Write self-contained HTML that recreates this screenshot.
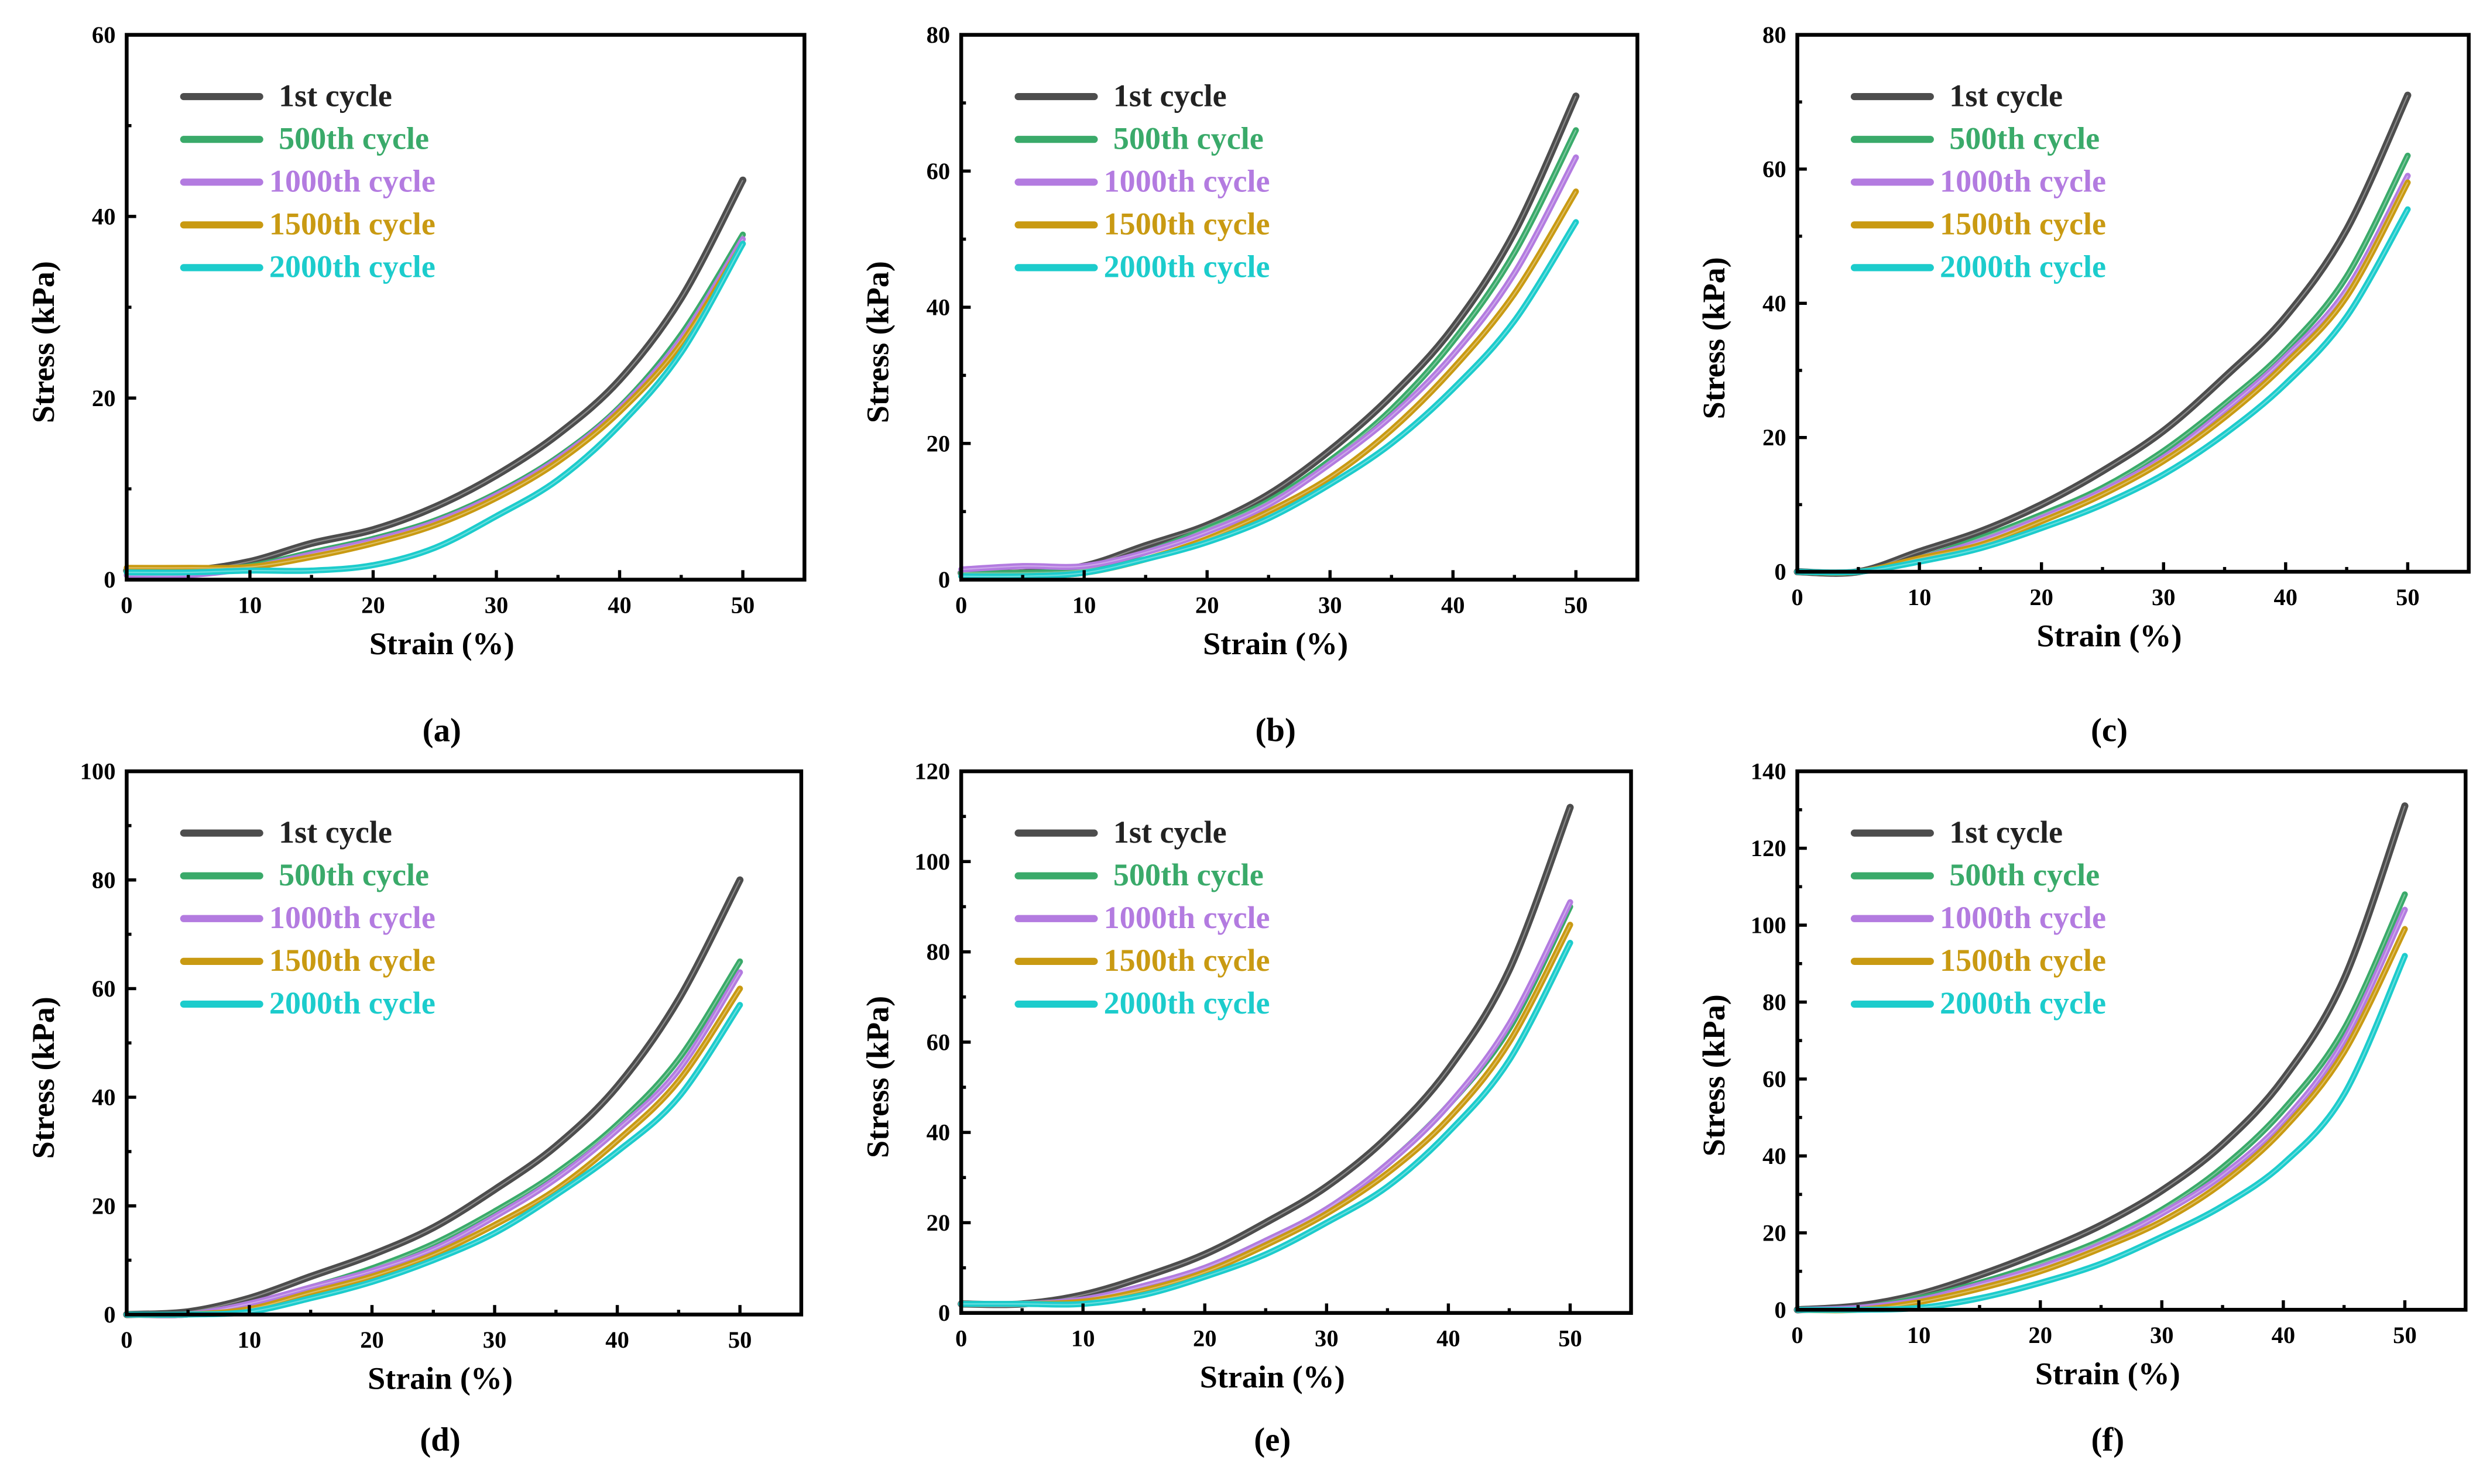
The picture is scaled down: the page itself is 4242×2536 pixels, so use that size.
<!DOCTYPE html>
<html><head><meta charset="utf-8">
<style>
html,body{margin:0;padding:0;background:#fff;}
svg{display:block;}
text{font-family:"Liberation Serif",serif;font-weight:bold;}
</style></head>
<body>
<svg id="fig" width="4242" height="2536" viewBox="0 0 1568 937" preserveAspectRatio="none" xmlns="http://www.w3.org/2000/svg"></svg>
<script>
const strainPts = [0,5,10,15,20,25,30,35,40,45,50];
const cycleNames = ["1st cycle","500th cycle","1000th cycle","1500th cycle","2000th cycle"];
const cycleColors = ["#4d4d4d","#3aaa6a","#b37be0","#c99a12","#1ccccc"];
// stress (kPa) per panel, per cycle
const aStress = [
 [1,1,2,4,5.5,8,11.5,16,22,31,44],
 [1,1,1.5,3,4.5,6.5,9.5,13.5,19,27,38],
 [0.5,0.5,1.3,2.8,4.3,6.3,9.3,13.3,18.8,26.5,37.5],
 [1.3,1.3,1.4,2.5,4,6,9,13,18.5,26,37],
 [0.8,0.8,1,1,1.6,3.5,7,11,17,25,37]
];
const bStress = [
 [1,1,2,5,8,12.5,19,27,37,51,71],
 [1,1,1.5,4,7.5,11.5,17.5,25,35,48,66],
 [1.5,2,2,4,7,11,17,24,33,45,62],
 [0.5,0.5,1,3,6,10,15,22,31,42,57],
 [0.5,0.5,1,3,5.5,9,14,20,28,38,52.5]
];
const cStress = [
 [0,0,3,6,10,15,21,29,38,51,71],
 [0,0,2,5,8.5,12.5,18,25,33,44,62],
 [0,0,2,4.5,8,12,17,24,32,42,59],
 [0,0,2,4,7.5,11.5,16.5,23,31,41,58],
 [0,0,1.5,3.5,6.5,10,14.5,20.5,28,38,54]
];
const dStress = [
 [0,0.5,3,7,11,16,23,31,42,58,80],
 [0,0,2,5,8.5,13,19,26,35,47,65],
 [0,0,2,5,8,12,18,25,34,45,63],
 [0,0,1,4,7,11,16.5,23,32,43,60],
 [0,0,0.5,3,6,10,15,22,30,40,57]
];
const eStress = [
 [2,2,4,8,13,20,28,39,54,76,112],
 [2,2,3,6,10,16,23,33,46,63,90],
 [2,2,3,6,10,16,23,33,46,64,91],
 [2,2,2.5,5,9,15,22,31,43,60,86],
 [2,2,2,4,8,13,20,28,40,56,82]
];
const fStress = [
 [0,1,4,9,15,22,31,43,60,86,131],
 [0,0.5,3,7,12,18,26,37,52,73,108],
 [0,0.5,2.5,6.5,11,17,25,35,49,70,104],
 [0,0,2,5.5,10,16,23,33,47,67,99],
 [0,0,0.5,3,7,12,19,27,38,56,92]
];
const xTicks = [0,10,20,30,40,50];
const aYTicks = [0,20,40,60];
const bYTicks = [0,20,40,60,80];
const dYTicks = [0,20,40,60,80,100];
const eYTicks = [0,20,40,60,80,100,120];
const fYTicks = [0,20,40,60,80,100,120,140];

const NS="http://www.w3.org/2000/svg";
const svg=document.getElementById('fig');
function mk(tag,attrs,parent){const e=document.createElementNS(NS,tag);for(const k in attrs)e.setAttribute(k,attrs[k]);(parent||svg).appendChild(e);return e;}

const panels=[
 {id:'a',x0:80,x1:508,y0:22,y1:366,ymax:60,ticks:aYTicks,data:aStress,first:"1st   cycle",lab:"(a)",sy:406,ly:461},
 {id:'b',x0:607,x1:1034,y0:22,y1:366,ymax:80,ticks:bYTicks,data:bStress,lab:"(b)",sy:406,ly:461},
 {id:'c',x0:1135,x1:1559,y0:22,y1:361,ymax:80,ticks:bYTicks,data:cStress,lab:"(c)",sy:401,ly:461},
 {id:'d',x0:80,x1:506,y0:487,y1:830,ymax:100,ticks:dYTicks,data:dStress,lab:"(d)",sy:870,ly:909},
 {id:'e',x0:607,x1:1030,y0:487,y1:829,ymax:120,ticks:eYTicks,data:eStress,lab:"(e)",sy:869,ly:909},
 {id:'f',x0:1135,x1:1557,y0:487,y1:827,ymax:140,ticks:fYTicks,data:fStress,lab:"(f)",sy:867,ly:909}
];

function pathFrom(pts){
  let d='M'+pts[0][0]+','+pts[0][1];
  for(let i=0;i<pts.length-1;i++){
    const p0=pts[Math.max(0,i-1)],p1=pts[i],p2=pts[i+1],p3=pts[Math.min(pts.length-1,i+2)];
    const c1x=p1[0]+(p2[0]-p0[0])/6,c1y=p1[1]+(p2[1]-p0[1])/6;
    const c2x=p2[0]-(p3[0]-p1[0])/6,c2y=p2[1]-(p3[1]-p1[1])/6;
    d+=' C'+c1x+','+c1y+' '+c2x+','+c2y+' '+p2[0]+','+p2[1];
  }
  return d;
}

panels.forEach(p=>{
  const g=mk('g',{});
  
  
  const sx=v=>p.x0+(v/55)*(p.x1-p.x0);
  const sy=v=>p.y1-(v/p.ymax)*(p.y1-p.y0);
  p.data.forEach((vals,ci)=>{
    const pts=strainPts.map((s,i)=>[sx(s),sy(vals[i])]);
    const path=mk('path',{d:pathFrom(pts),fill:'none',stroke:cycleColors[ci],'stroke-width':ci===0?4.5:3.8,'stroke-linecap':'round'},g);
    
    
    const inner=mk('path',{d:pathFrom(pts),fill:'none',stroke:'#fff','stroke-opacity':0.35,'stroke-width':0.8},g);
    
    
  });
  const fr=mk('rect',{x:p.x0,y:p.y0,width:p.x1-p.x0,height:p.y1-p.y0,fill:'none',stroke:'#000','stroke-width':2.4},g);
  
  
  xTicks.forEach(t=>{
    mk('line',{x1:sx(t),x2:sx(t),y1:p.y1,y2:p.y1-6,stroke:'#000','stroke-width':2},g);
    mk('line',{x1:sx(t+5),x2:sx(t+5),y1:p.y1,y2:p.y1-3,stroke:'#000','stroke-width':2},g);
    const tx=mk('text',{x:sx(t),y:p.y1+21,'text-anchor':'middle','font-size':15},g);
    tx.textContent=t;
    
    
  });
  p.ticks.forEach((t,i)=>{
    mk('line',{x1:p.x0,x2:p.x0+6,y1:sy(t),y2:sy(t),stroke:'#000','stroke-width':2},g);
    if(i<p.ticks.length-1) mk('line',{x1:p.x0,x2:p.x0+3,y1:sy(t+10),y2:sy(t+10),stroke:'#000','stroke-width':2},g);
    const ty=mk('text',{x:p.x0-7,y:sy(t)+5,'text-anchor':'end','font-size':15},g);
    ty.textContent=t;
    
    
  });
  const xt=mk('text',{x:(p.x0+p.x1)/2-15,y:p.sy+7,'text-anchor':'middle','font-size':20},g);
  xt.setAttribute('xml:space','preserve');
  xt.textContent='Strain  (%)';
  
  
  const ycx=p.x0-46, ycy=(p.y0+p.y1)/2+22;
  const yt=mk('text',{x:ycx,y:ycy,'text-anchor':'middle','font-size':20,transform:'rotate(-90 '+ycx+' '+ycy+')'},g);
  yt.setAttribute('xml:space','preserve');
  yt.textContent='Stress  (kPa)';
  
  
  cycleNames.forEach((n,ci)=>{
    const ly=p.y0+39+ci*27;
    const ll=mk('line',{x1:p.x0+36,x2:p.x0+84,y1:ly,y2:ly,stroke:cycleColors[ci],'stroke-width':4.5,'stroke-linecap':'round'},g);
    
    
    const lx=(ci===0||ci===1)?p.x0+96:p.x0+90;
    const lt=mk('text',{x:lx,y:ly+6,'font-size':20,fill:ci===0?'#222':cycleColors[ci]},g);
    lt.setAttribute('xml:space','preserve');
    lt.textContent=(ci===0&&p.first)?p.first:n;
    
    
  });
  const pl=mk('text',{x:(p.x0+p.x1)/2-15,y:p.ly+7,'text-anchor':'middle','font-size':21},g);
  pl.textContent=p.lab;
  
  
});
</script>
</body></html>
